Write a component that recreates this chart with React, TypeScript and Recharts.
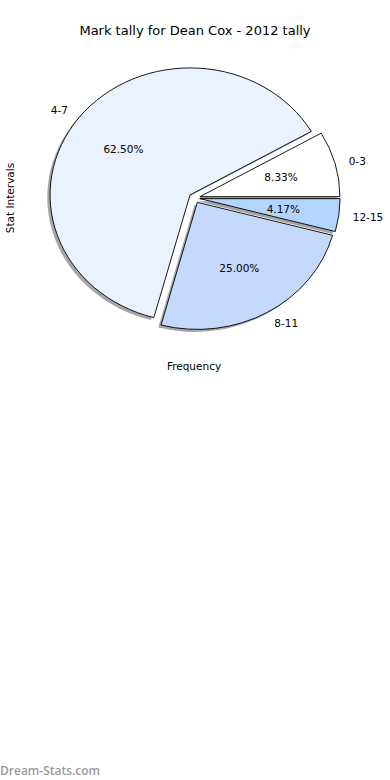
import React from 'react';
import { PieChart, Pie, Cell } from 'recharts';

// slice data, counted anticlockwise from 3 o'clock
const categories = ['0-3', '4-7', '8-11', '12-15'];
const counts = [2, 15, 6, 1];
const sliceColors = ['#ffffff', '#ebf2ff', '#c5d9ff', '#b3d4ff'];

const TITLE = 'Mark tally for Dean Cox - 2012 tally';
const X_LABEL = 'Frequency';
const Y_LABEL = 'Stat Intervals';

const W = 390;
const H = 780;
const CX = 194.5;
const CY = 198;
const R = 127;
const XS = 140 / 127; // the pie is stretched sideways
const EXPLODE = 0.04;
const RAD = Math.PI / 180;
const FONT = '"DejaVu Sans", sans-serif';

const pieData = categories.map((name, i) => ({ name, value: counts[i] }));

function wedgePath(cx: number, cy: number, r: number, start: number, end: number, mid: number) {
    const rx = r * XS;
    const ry = r;
    const x0 = cx + EXPLODE * rx * Math.cos(mid * RAD);
    const y0 = cy - EXPLODE * ry * Math.sin(mid * RAD);
    const x1 = x0 + rx * Math.cos(start * RAD);
    const y1 = y0 - ry * Math.sin(start * RAD);
    const x2 = x0 + rx * Math.cos(end * RAD);
    const y2 = y0 - ry * Math.sin(end * RAD);
    const large = Math.abs(end - start) > 180 ? 1 : 0;
    const sweep = end > start ? 0 : 1;
    return `M${x0},${y0} L${x1},${y1} A${rx},${ry} 0 ${large} ${sweep} ${x2},${y2} Z`;
}

const Wedge = (props: any) => (
    <path
        d={wedgePath(props.cx, props.cy, props.outerRadius, props.startAngle, props.endAngle, props.midAngle)}
        fill={props.fill}
        stroke="#000"
        strokeWidth={0.9}
        strokeLinejoin="miter"
    />
);

const ShadowWedge = (props: any) => (
    <path
        d={wedgePath(props.cx, props.cy, props.outerRadius, props.startAngle, props.endAngle, props.midAngle)}
        fill="#4d4d4d"
        fillOpacity={0.5}
        stroke="none"
    />
);

const renderLabel = (props: any) => {
    const { cx, cy, outerRadius, midAngle, percent, name } = props;
    const rx = outerRadius * XS;
    const ry = outerRadius;
    const c = Math.cos(midAngle * RAD);
    const s = Math.sin(midAngle * RAD);
    const x0 = cx + EXPLODE * rx * c;
    const y0 = cy - EXPLODE * ry * s;
    return (
        <g>
            <text
                x={x0 + 1.1 * rx * c}
                y={y0 - 1.1 * ry * s}
                textAnchor={c >= 0 ? 'start' : 'end'}
                dominantBaseline="central"
                fontFamily={FONT}
                fontSize={10.5}
                fill="#000"
            >
                {name}
            </text>
            <text
                x={x0 + 0.6 * rx * c}
                y={y0 - 0.6 * ry * s}
                textAnchor="middle"
                dominantBaseline="central"
                fontFamily={FONT}
                fontSize={10.5}
                fill="#000"
            >
                {`${(percent * 100).toFixed(2)}%`}
            </text>
        </g>
    );
};

export default function App() {
    return (
        <div style={{ position: 'absolute', left: 0, top: 0, width: W, height: H, background: '#fff' }}>
            <PieChart width={W} height={H} margin={{ top: 0, right: 0, bottom: 0, left: 0 }}>
                <Pie
                    data={pieData}
                    dataKey="value"
                    nameKey="name"
                    cx={CX - 2.8}
                    cy={CY + 2.5}
                    outerRadius={R}
                    startAngle={0}
                    endAngle={360}
                    stroke="none"
                    shape={ShadowWedge}
                    label={false}
                    labelLine={false}
                    isAnimationActive={false}
                />
                <Pie
                    data={pieData}
                    dataKey="value"
                    nameKey="name"
                    cx={CX}
                    cy={CY}
                    outerRadius={R}
                    startAngle={0}
                    endAngle={360}
                    shape={Wedge}
                    label={renderLabel}
                    labelLine={false}
                    isAnimationActive={false}
                >
                    {pieData.map((d, i) => (
                        <Cell key={d.name} fill={sliceColors[i]} />
                    ))}
                </Pie>
            </PieChart>
            <svg width={W} height={H} style={{ position: 'absolute', left: 0, top: 0, pointerEvents: 'none' }}>
                <text x={195} y={30} textAnchor="middle" dominantBaseline="central" fontFamily={FONT} fontSize={13} fill="#000">
                    {TITLE}
                </text>
                <text x={194} y={366} textAnchor="middle" dominantBaseline="central" fontFamily={FONT} fontSize={10.5} fill="#000">
                    {X_LABEL}
                </text>
                <text
                    x={10}
                    y={198}
                    textAnchor="middle"
                    dominantBaseline="central"
                    fontFamily={FONT}
                    fontSize={10.5}
                    fill="#000"
                    transform="rotate(-90 10 198)"
                >
                    {Y_LABEL}
                </text>
                <text x={0} y={775} fontFamily='"Open Sans", sans-serif' fontWeight={600} fontSize={12} fill="#9a9a9a">
                    Dream-Stats.com
                </text>
            </svg>
        </div>
    );
}
